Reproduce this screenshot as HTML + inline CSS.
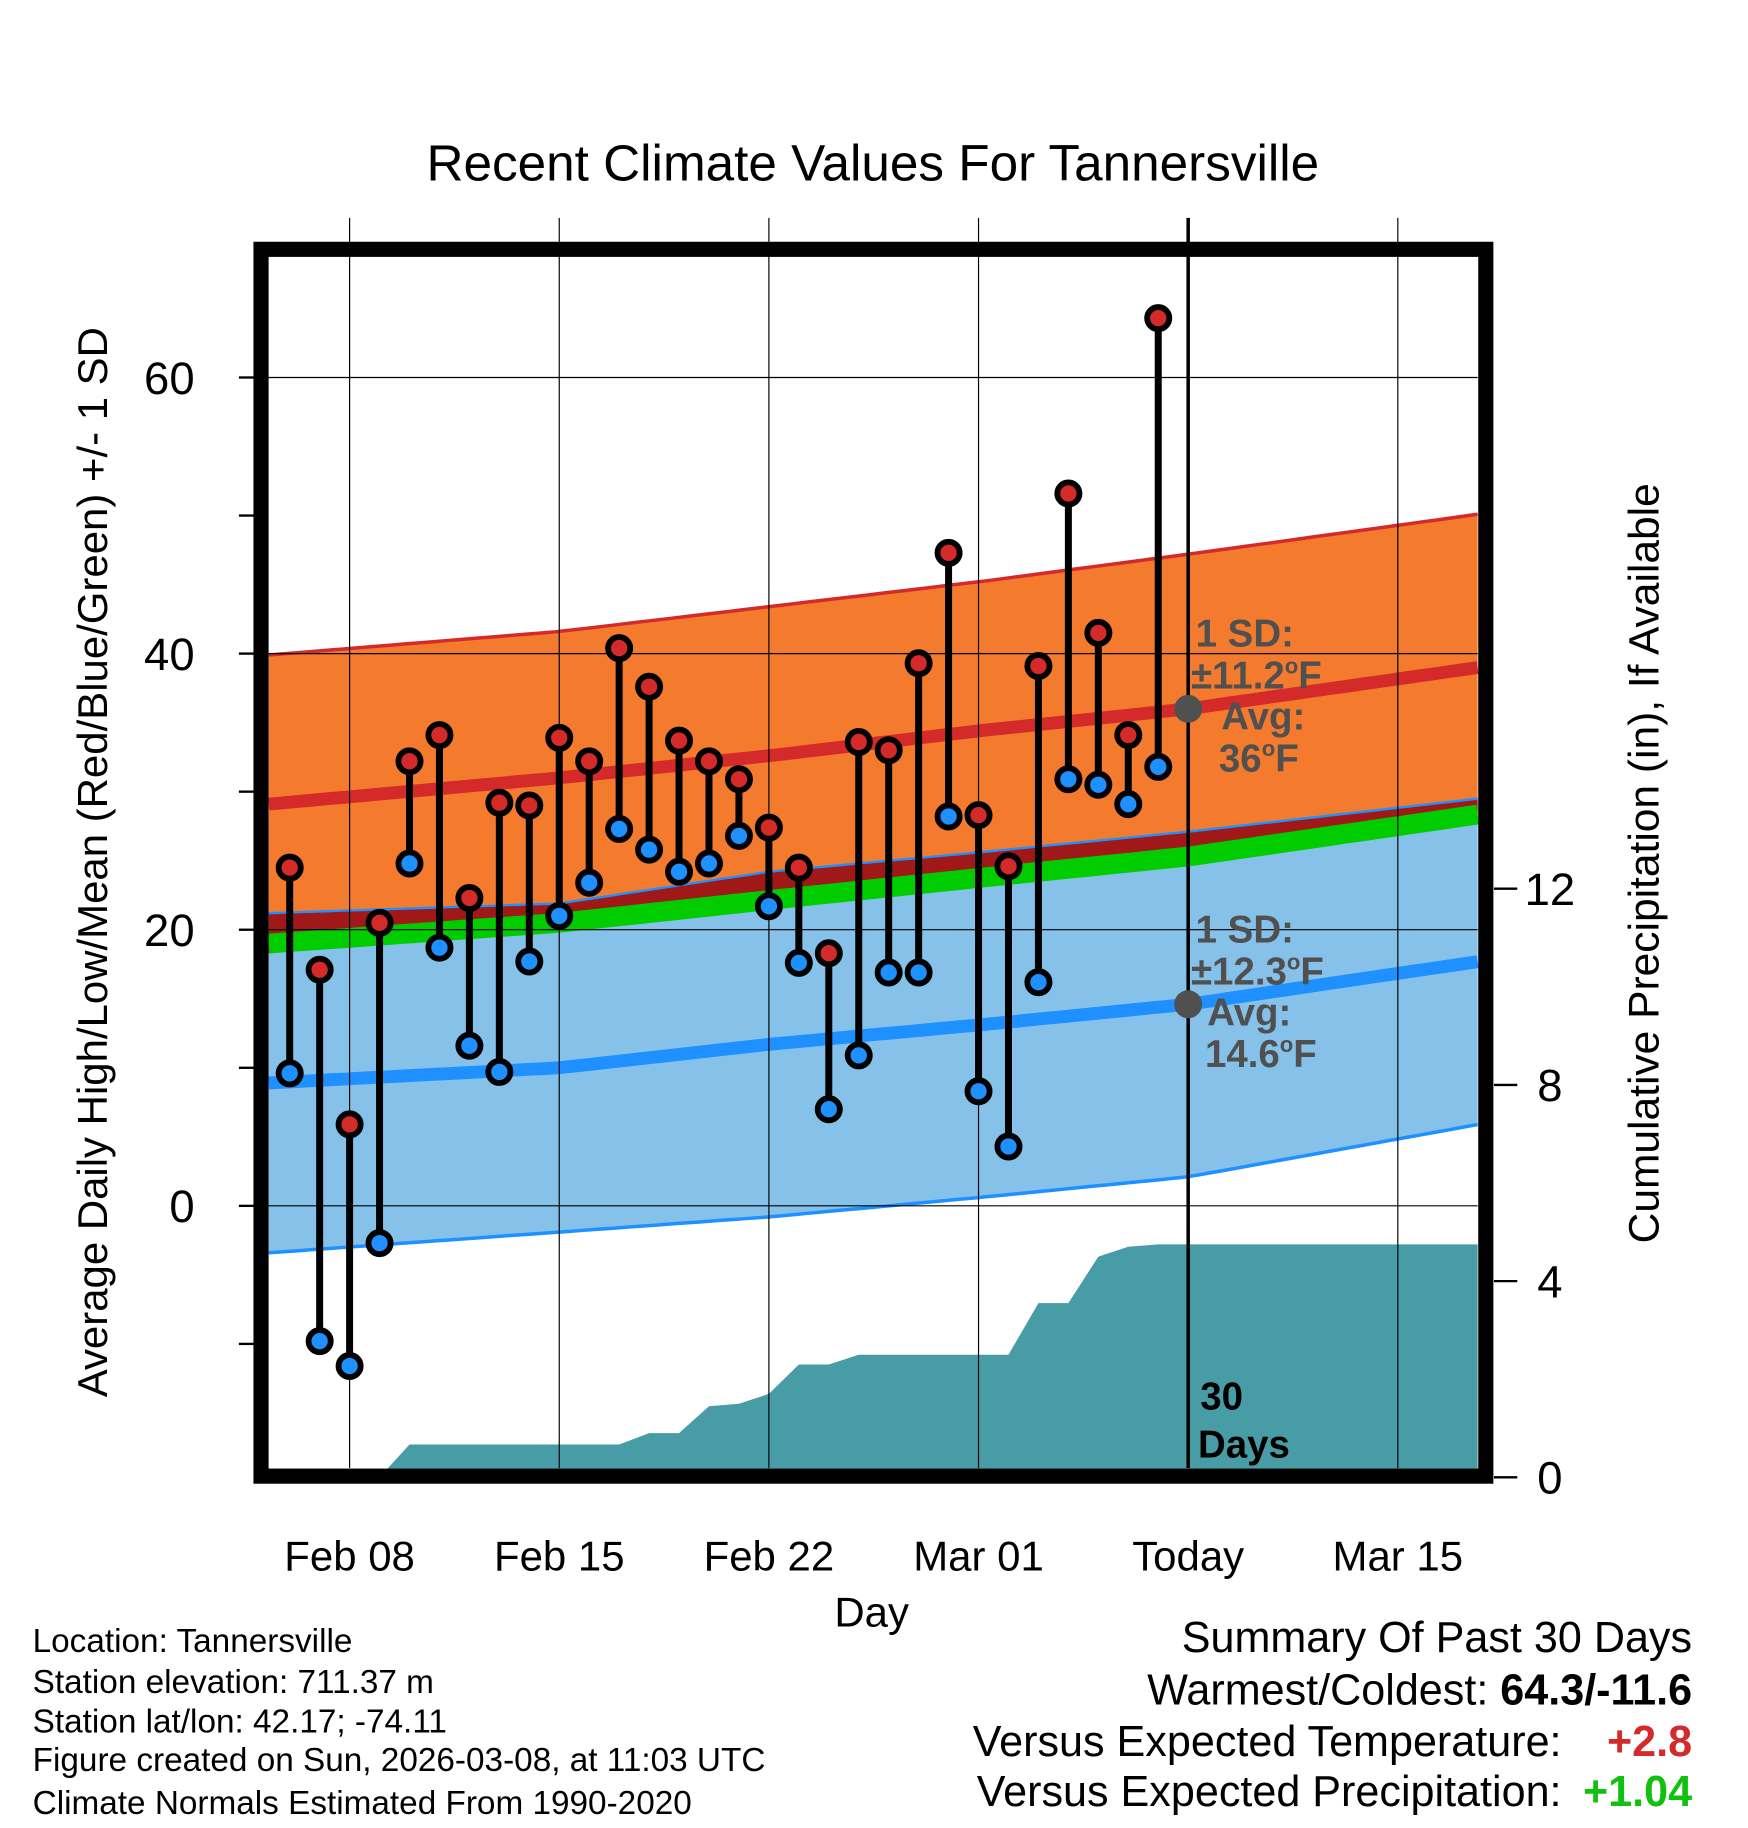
<!DOCTYPE html>
<html><head><meta charset="utf-8"><style>
html,body{margin:0;padding:0;background:#fff;}
svg{display:block;font-family:"Liberation Sans",Arial,sans-serif;}
</style></head><body>
<svg id="chart" width="1748" height="1828" viewBox="0 0 1500 1569" preserveAspectRatio="none" xmlns="http://www.w3.org/2000/svg">
<rect width="1500" height="1569" fill="#fff"/>
<g id="bands"></g>
<g id="grid"></g>
<g id="marks"></g>
<g id="frame"></g>
<text x="749" y="155" font-size="44" text-anchor="middle">Recent Climate Values For Tannersville</text>
<text transform="translate(92,740) rotate(-90)" font-size="36" text-anchor="middle">Average Daily High/Low/Mean (Red/Blue/Green) +/- 1 SD</text>
<text transform="translate(1423,741) rotate(-90)" font-size="36.5" text-anchor="middle">Cumulative Precipitation (in), If Available</text>
<text x="748" y="1396" font-size="36" text-anchor="middle">Day</text>
<g font-size="28.6">
<text x="28" y="1418">Location: Tannersville</text>
<text x="28" y="1453">Station elevation: 711.37 m</text>
<text x="28" y="1487">Station lat/lon: 42.17; -74.11</text>
<text x="28" y="1520">Figure created on Sun, 2026-03-08, at 11:03 UTC</text>
<text x="28" y="1557">Climate Normals Estimated From 1990-2020</text>
</g>
<g font-size="37" text-anchor="end">
<text x="1452" y="1418">Summary Of Past 30 Days</text>
<text x="1452" y="1463">Warmest/Coldest: <tspan font-weight="bold">64.3/-11.6</tspan></text>
<text x="1340" y="1507">Versus Expected Temperature:</text>
<text x="1452" y="1507" font-weight="bold" fill="#d42a2a">+2.8</text>
<text x="1340" y="1550">Versus Expected Precipitation:</text>
<text x="1452" y="1550" font-weight="bold" fill="#11c011">+1.04</text>
</g>
</svg>
<script>
const days=[-2,-1,0,1,2,3,4,5,6,7,8,9,10,11,12,13,14,15,16,17,18,19,20,21,22,23,24,25,26,27];
const highs=[24.5,17.1,5.9,20.5,32.2,34.1,22.3,29.2,29.0,33.9,32.2,40.4,37.6,33.7,32.2,30.9,27.4,24.5,18.3,33.6,33.0,39.3,47.3,28.3,24.6,39.1,51.6,41.5,34.1,64.3];
const lows=[9.6,-9.8,-11.6,-2.7,24.8,18.7,11.6,9.7,17.7,21.0,23.4,27.3,25.8,24.2,24.8,26.8,21.7,17.6,7.0,10.9,16.9,16.9,28.2,8.3,4.3,16.2,30.9,30.5,29.1,31.8];
const precip=[0,0,0,0,0.67,0.67,0.67,0.67,0.67,0.67,0.67,0.67,0.9,0.9,1.45,1.5,1.7,2.3,2.3,2.5,2.5,2.5,2.5,2.5,2.5,3.55,3.55,4.5,4.7,4.75];
const normDays=[-2.7,7,14,21,28,37.7];
const highMean=[29.1,31.0,32.6,34.4,36.0,39.0];
const highSD=[10.8,10.6,10.8,10.8,11.2,11.1];
const lowMean=[8.9,10.0,11.7,13.1,14.6,17.7];
const lowSD=[12.3,11.9,12.5,12.5,12.5,11.8];
const xTickDays=[0,7,14,21,28,35];
const xTickLabels=["Feb 08","Feb 15","Feb 22","Mar 01","Today","Mar 15"];
const yTicks=[0,20,40,60];
const y2Ticks=[0,4,8,12];

const NS="http://www.w3.org/2000/svg";
const L=230,R=1268,T=220,B=1260;
const x=d=>300+25.7*d;
const y=t=>1035-11.85*t;
const y2=p=>1268-42.1*p;
function mk(tag,attrs,parent){const e=document.createElementNS(NS,tag);for(const k in attrs)e.setAttribute(k,attrs[k]);parent.appendChild(e);return e;}
function interp(arr,d){for(let i=0;i<normDays.length-1;i++){if(d<=normDays[i+1]){const f=(d-normDays[i])/(normDays[i+1]-normDays[i]);return arr[i]+f*(arr[i+1]-arr[i]);}}return arr[arr.length-1];}
const dEnd=(R-300)/25.7;
const samp=[];for(let d=normDays[0];d<dEnd;d+=0.5)samp.push(d);samp.push(dEnd);
const f=(fn)=>samp.map(d=>x(d).toFixed(1)+","+y(fn(d)).toFixed(1));
const hm=d=>interp(highMean,d),hs=d=>interp(highSD,d),lm=d=>interp(lowMean,d),ls=d=>interp(lowSD,d);
const bands=document.getElementById('bands');
let p;
p=mk('polygon',{points:f(d=>hm(d)+hs(d)).concat(f(d=>hm(d)-hs(d)).reverse()).join(' '),fill:'#f47a2e'},bands);

p=mk('polygon',{points:f(d=>lm(d)+ls(d)).concat(f(d=>lm(d)-ls(d)).reverse()).join(' '),fill:'#85c1e9'},bands);

p=mk('polygon',{points:f(d=>Math.max(lm(d)+ls(d),hm(d)-hs(d))).concat(f(d=>hm(d)-hs(d)).reverse()).join(' '),fill:'#a01818'},bands);

const pts=[x(-2.7)+","+y2(0)];
days.forEach((d,i)=>pts.push(x(d)+","+y2(precip[i])));
pts.push(R+","+y2(precip[precip.length-1]));pts.push(R+","+y2(0));
p=mk('polygon',{points:pts.join(' '),fill:'#489ca6'},bands);

p=mk('polyline',{points:f(d=>(hm(d)+lm(d))/2).join(' '),fill:'none',stroke:'#00cc00','stroke-width':17},bands);

p=mk('polyline',{points:f(hm).join(' '),fill:'none',stroke:'#d42a2a','stroke-width':11},bands);

p=mk('polyline',{points:f(lm).join(' '),fill:'none',stroke:'#1e90ff','stroke-width':11},bands);

p=mk('polyline',{points:f(d=>hm(d)+hs(d)).join(' '),fill:'none',stroke:'#d42a2a','stroke-width':3},bands);

p=mk('polyline',{points:f(d=>lm(d)-ls(d)).join(' '),fill:'none',stroke:'#1e90ff','stroke-width':3},bands);

p=mk('polyline',{points:f(d=>lm(d)+ls(d)).join(' '),fill:'none',stroke:'#1e90ff','stroke-width':2},bands);


const grid=document.getElementById('grid');
xTickDays.forEach((d,i)=>{
 let l=mk('line',{x1:x(d),x2:x(d),y1:187,y2:B,stroke:'#000','stroke-width':d===28?3:1},grid);
 
 let t=mk('text',{x:x(d),y:1348,'font-size':36,'text-anchor':'middle'},grid);t.textContent=xTickLabels[i];
 
});
yTicks.forEach(v=>{
 let l=mk('line',{x1:L,x2:R,y1:y(v),y2:y(v),stroke:'#000','stroke-width':1},grid);
 
 let t=mk('text',{x:167,y:y(v)+14,'font-size':39,'text-anchor':'end'},grid);t.textContent=v;
 
});
for(let v=-10;v<=60;v+=10){let l=mk('line',{x1:205,x2:218,y1:y(v),y2:y(v),stroke:'#000','stroke-width':2},grid);
 }
y2Ticks.forEach(v=>{
 let l=mk('line',{x1:1282,x2:1302,y1:y2(v),y2:y2(v),stroke:'#000','stroke-width':2},grid);
 
 let t=mk('text',{x:1330,y:y2(v)+14,'font-size':39,'text-anchor':'middle'},grid);t.textContent=v;
 
});

const marks=document.getElementById('marks');
days.forEach((d,i)=>{
 let l=mk('line',{x1:x(d),x2:x(d),y1:y(highs[i]),y2:y(lows[i]),stroke:'#000','stroke-width':6},marks);
 
});
days.forEach((d,i)=>{
 let c=mk('circle',{cx:x(d),cy:y(highs[i]),r:9.5,fill:'#d42a2a',stroke:'#000','stroke-width':5},marks);
 
 c=mk('circle',{cx:x(d),cy:y(lows[i]),r:9.5,fill:'#1e90ff',stroke:'#000','stroke-width':5},marks);
 
});
let c=mk('circle',{cx:x(28),cy:y(hm(28)),r:12,fill:'#505050'},marks);

c=mk('circle',{cx:x(28),cy:y(lm(28)),r:12,fill:'#505050'},marks);

const ann=mk('g',{'font-size':33,'font-weight':'bold',fill:'#505050'},marks);

ann.innerHTML='<text x="1026" y="555">1 SD:</text><text x="1022" y="591">±11.2<tspan font-size="19" dy="-13">o</tspan><tspan dy="13">F</tspan></text><text x="1048" y="626">Avg:</text><text x="1046" y="662">36<tspan font-size="19" dy="-13">o</tspan><tspan dy="13">F</tspan></text>'+
'<text x="1026" y="809">1 SD:</text><text x="1022" y="845">±12.3<tspan font-size="19" dy="-13">o</tspan><tspan dy="13">F</tspan></text><text x="1036" y="880">Avg:</text><text x="1034" y="916">14.6<tspan font-size="19" dy="-13">o</tspan><tspan dy="13">F</tspan></text>';
const dl=mk('g',{'font-size':33,'font-weight':'bold',fill:'#000'},marks);

dl.innerHTML='<text x="1030" y="1210">30</text><text x="1028" y="1251">Days</text>';

const fr=mk('rect',{x:224,y:214,width:1051,height:1053,fill:'none',stroke:'#000','stroke-width':13},document.getElementById('frame'));

</script>
</body></html>
